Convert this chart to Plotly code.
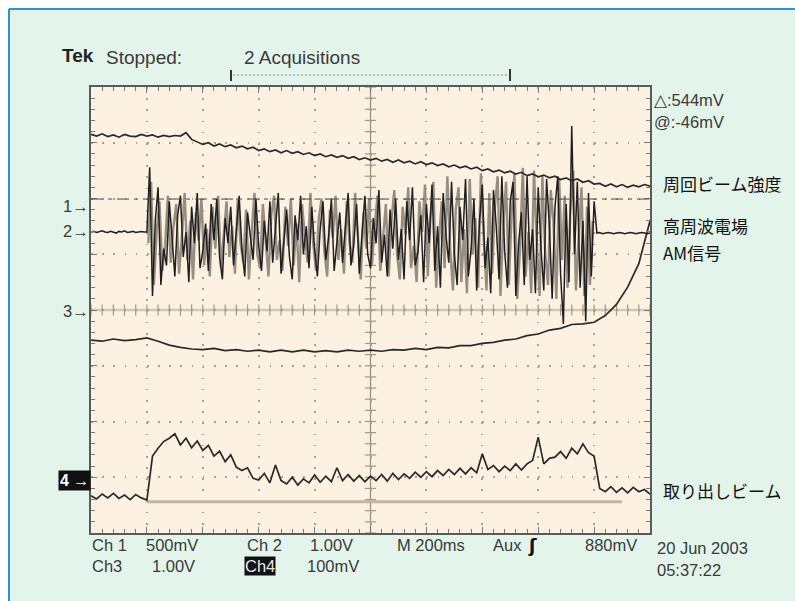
import numpy as np
import plotly.graph_objects as go

# ---------------- data (screen divisions, time in ms; 200 ms/div) ----------------
t_ch1 = list(range(0, 2001, 20))
ch1 = [3.15, 3.12, 3.16, 3.11, 3.14, 3.10, 3.15, 3.12, 3.11, 3.15, 3.12,
       3.14, 3.10, 3.13, 3.11, 3.13, 3.12, 3.18, 3.06, 3.01, 2.97,
       3.00, 2.94, 2.98, 2.93, 2.96, 2.91, 2.94, 2.89, 2.92, 2.86,
       2.89, 2.84, 2.87, 2.82, 2.86, 2.81, 2.84, 2.79, 2.82, 2.77,
       2.80, 2.75, 2.78, 2.74, 2.77, 2.72, 2.75, 2.70, 2.73, 2.69,
       2.72, 2.67, 2.70, 2.65, 2.69, 2.64, 2.67, 2.62, 2.66, 2.61,
       2.64, 2.59, 2.62, 2.57, 2.60, 2.55, 2.58, 2.53, 2.56, 2.50,
       2.53, 2.48, 2.51, 2.46, 2.49, 2.44, 2.47, 2.41, 2.44, 2.39,
       2.42, 2.37, 2.40, 2.34, 2.37, 2.32, 2.35, 2.29, 2.32, 2.26,
       2.27, 2.22, 2.26, 2.21, 2.25, 2.20, 2.24, 2.21, 2.25, 2.22]

t_ch2 = list(range(0, 2001, 10))
ch2_black = [1.40, 1.41, 1.39, 1.40, 1.42, 1.40, 1.39, 1.41, 1.40, 1.38, 1.41,
             1.40, 1.42, 1.39, 1.40, 1.41, 1.39, 1.40, 1.41, 1.40, 1.40,
             2.56, 0.25, 1.60, 2.20, 0.45, 1.10, 0.80, 1.95, 1.30, 0.60,
             1.70, 2.05, 0.95, 1.40, 0.50, 1.85, 1.20, 2.10, 0.75, 1.05,
             1.55, 0.70, 1.90, 1.25, 2.00, 0.95, 0.55, 1.65, 1.20, 1.85,
             0.80, 1.40, 2.05, 1.10, 0.60, 1.75, 1.35, 0.90, 2.00, 1.15,
             0.70, 1.60, 1.05, 1.95, 0.85, 1.45, 2.10, 0.65, 1.30, 1.80,
             0.95, 0.55, 1.70, 1.25, 2.05, 1.00, 1.50, 0.75, 1.85, 1.10,
             0.60, 1.45, 1.95, 0.90, 1.30, 2.00, 0.70, 1.20, 1.75, 0.85,
             1.55, 2.10, 0.80, 1.15, 1.90, 0.65, 1.40, 2.05, 1.00, 0.75,
             1.65, 1.20, 2.15, 0.85, 1.35, 0.60, 1.80, 1.10, 2.00, 0.90,
             1.45, 0.55, 1.95, 1.25, 2.20, 0.80, 1.05, 1.70, 0.50, 1.90,
             1.20, 2.25, 0.70, 1.50, 0.40, 2.10, 1.35, 0.85, 2.30, 1.00,
             0.45, 1.85, 1.25, 2.35, 0.60, 1.10, 2.00, 0.35, 1.60, 2.25,
             0.75, 1.30, 0.30, 2.15, 1.50, 0.55, 2.40, 1.05, 0.40, 1.95,
             2.30, 0.25, 1.20, 1.75, 0.45, 2.40, 0.90, 1.45, 0.30, 2.20,
             1.10, 0.35, 2.35, 1.50, 0.20, 1.85, 2.40, 0.65, -0.25, 1.90,
             0.50, 3.30, 1.00, 2.30, 0.40, 1.60, -0.20, 2.10, 0.60,
             1.95,
             1.38, 1.39, 1.37, 1.38, 1.39, 1.38, 1.37, 1.38, 1.39, 1.38,
             1.37, 1.38, 1.39, 1.38, 1.37, 1.38, 1.39, 1.38, 1.37, 1.38]

t_ch2_gray = list(range(205, 1800, 10))
ch2_gray = [1.20, 2.30, 0.45, 1.40, 1.95, 0.70, 1.15, 2.05, 0.85, 1.50,
            1.90, 0.65, 1.30, 2.10, 0.90, 1.60, 0.55, 1.75, 1.25, 2.00,
            0.80, 1.45, 0.60, 1.85, 1.10, 2.05, 0.75, 1.35, 1.95, 0.95,
            1.50, 0.65, 2.00, 1.20, 0.85, 1.80, 0.55, 1.40, 2.10, 1.00,
            0.75, 1.90, 1.30, 0.60, 1.70, 2.05, 0.90, 1.25, 0.70, 1.85,
            1.15, 2.00, 0.80, 1.55, 0.50, 1.90, 1.35, 0.85, 2.10, 1.20,
            0.70, 1.65, 2.00, 1.05, 0.60, 1.80, 1.30, 2.05, 0.90, 1.45,
            0.65, 1.95, 1.20, 0.85, 2.10, 1.40, 0.55, 1.75, 1.10, 2.00,
            0.80, 1.50, 2.05, 0.70, 1.25, 1.90, 0.60, 1.60, 2.15, 1.00,
            0.55, 1.85, 1.35, 2.20, 0.75, 1.15, 0.50, 1.95, 1.40, 2.25,
            0.60, 1.70, 2.30, 0.40, 1.25, 1.95, 0.75, 2.40, 1.10, 0.35,
            1.80, 2.20, 0.50, 1.45, 0.30, 2.35, 1.00, 1.65, 0.40, 2.45,
            1.30, 0.35, 2.10, 0.65, 1.85, 2.40, 0.25, 1.50, 2.30, 0.45,
            1.70, 2.45, 0.20, 1.10, 2.55, 0.60, 1.40, 0.30, 2.50, 1.20,
            0.25, 2.40, 1.00, 0.45, 2.15, 1.55, 0.20, 2.35, 0.90, 2.05,
            0.40, 1.75, 2.50, 0.35, 1.30, 2.20, 0.25, 1.85, 0.45, 1.60]

t_ch3 = list(range(0, 2001, 40))
ch3 = [-0.54, -0.56, -0.52, -0.55, -0.53, -0.50, -0.56, -0.63, -0.67, -0.70,
       -0.71, -0.69, -0.73, -0.71, -0.74, -0.72, -0.75, -0.72, -0.75, -0.72,
       -0.75, -0.73, -0.75, -0.72, -0.74, -0.72, -0.74, -0.71, -0.72, -0.69,
       -0.71, -0.67, -0.68, -0.64, -0.64, -0.60, -0.58, -0.54, -0.52, -0.46,
       -0.43, -0.36, -0.33, -0.26, -0.25, -0.22, -0.10, 0.10, 0.41, 0.83, 1.60]

t_ch4 = list(range(0, 2001, 20))
ch4 = [-3.33, -3.39, -3.30, -3.37, -3.29, -3.38, -3.32, -3.40, -3.31, -3.37, -3.41,
       -2.62, -2.48, -2.36, -2.30, -2.22, -2.42, -2.30, -2.47, -2.35, -2.52,
       -2.43, -2.62, -2.53, -2.72, -2.60, -2.82, -2.88, -2.83, -3.02, -3.05,
       -2.93, -3.10, -2.78, -3.06, -3.12, -3.00, -3.14, -3.03, -3.10, -2.96,
       -3.09, -2.98, -3.08, -2.83, -3.06, -2.95, -3.07, -2.97, -3.08, -2.98,
       -3.06, -2.95, -3.07, -2.93, -3.04, -2.94, -3.02, -2.91, -3.00, -2.90,
       -2.99, -2.88, -2.97, -2.86, -2.95, -2.84, -2.94, -2.83, -2.92, -2.58,
       -2.86, -2.79, -2.90, -2.80, -2.88, -2.76, -2.87, -2.76, -2.70, -2.28,
       -2.76, -2.66, -2.64, -2.54, -2.66, -2.48, -2.58, -2.40, -2.56, -2.62,
       -3.20, -3.26, -3.17, -3.27, -3.19, -3.28, -3.18, -3.26, -3.22, -3.30]

ref_t = [200, 1900]
ref_v = [-3.44, -3.44]
cursor_level = 1.99

# ---------------- layout geometry ----------------
W, H = 795, 601
L, R, T, B = 91, 650, 87, 533


def P(xp, yp):
    return (xp - L) / (R - L), (B - yp) / (B - T)


MINT = "#e3f4ea"
CREAM = "#fdf1e1"
TXT = "#3a3a3a"
FONT = "Liberation Sans, Arial, sans-serif"
JFONT = "Noto Sans CJK JP, sans-serif"

fig = go.Figure()

# center graticule tick marks
cx = np.arange(0, 2001, 40)
fig.add_trace(go.Scatter(x=cx, y=np.zeros_like(cx, dtype=float), mode="markers",
                         marker=dict(symbol="line-ns", size=8, line=dict(width=1.2, color="#a39786")),
                         hoverinfo="skip", showlegend=False))
cy = np.arange(-4, 4.001, 0.2)
fig.add_trace(go.Scatter(x=np.full_like(cy, 1000), y=cy, mode="markers",
                         marker=dict(symbol="line-ew", size=8, line=dict(width=1.2, color="#a39786")),
                         hoverinfo="skip", showlegend=False))

# reference baseline
fig.add_trace(go.Scatter(x=ref_t, y=ref_v, mode="lines",
                         line=dict(color="#c3b3a1", width=3), hoverinfo="skip", showlegend=False))
# ch2 two acquisitions
fig.add_trace(go.Scatter(x=t_ch2_gray, y=ch2_gray, mode="lines",
                         line=dict(color="#968e82", width=2.4), hoverinfo="skip", showlegend=False))
fig.add_trace(go.Scatter(x=t_ch2, y=ch2_black, mode="lines",
                         line=dict(color="#202020", width=1.5), hoverinfo="skip", showlegend=False))
for tt, vv in ((t_ch1, ch1), (t_ch3, ch3), (t_ch4, ch4)):
    fig.add_trace(go.Scatter(x=tt, y=vv, mode="lines",
                             line=dict(color="#2a2a2a", width=1.7), hoverinfo="skip", showlegend=False))

shapes = []
# center lines
shapes.append(dict(type="line", xref="x", yref="y", x0=0, x1=2000, y0=0, y1=0,
                   line=dict(color="#d3c7b8", width=2.5), layer="below"))
shapes.append(dict(type="line", xref="x", yref="y", x0=1000, x1=1000, y0=-4, y1=4,
                   line=dict(color="#9a8f80", width=1.3), layer="below"))
# cursor
shapes.append(dict(type="line", xref="x", yref="y", x0=0, x1=2000, y0=cursor_level, y1=cursor_level,
                   line=dict(color="#4a4a4a", width=1, dash="12px,5px,4px,5px"), layer="above"))

# panel frame: white strips + blue border
x0p, _ = P(0, 0)
x1p, _ = P(W, 0)
_, y0p = P(0, 0)
_, y8p = P(0, 8)
_, ybp = P(0, H)
xl8, _ = P(8, 0)
shapes.append(dict(type="rect", xref="paper", yref="paper", x0=x0p, x1=x1p, y0=y8p, y1=y0p,
                   fillcolor="white", line=dict(width=0), layer="above"))
shapes.append(dict(type="rect", xref="paper", yref="paper", x0=x0p, x1=xl8, y0=ybp, y1=y0p,
                   fillcolor="white", line=dict(width=0), layer="above"))
bx, _ = P(9, 0)
_, by = P(0, 9)
shapes.append(dict(type="line", xref="paper", yref="paper", x0=bx, x1=x1p, y0=by, y1=by,
                   line=dict(color="#2f92d4", width=2), layer="above"))
shapes.append(dict(type="line", xref="paper", yref="paper", x0=bx, x1=bx, y0=by, y1=ybp,
                   line=dict(color="#2f92d4", width=2), layer="above"))

# record bracket at top
a, yb = P(233, 75)
b, _ = P(508, 75)
shapes.append(dict(type="line", xref="paper", yref="paper", x0=a, x1=b, y0=yb, y1=yb,
                   line=dict(color="#8a8a8a", width=1.2, dash="2px,2px"), layer="above"))
xa, ya0 = P(231, 70)
_, ya1 = P(231, 81)
shapes.append(dict(type="line", xref="paper", yref="paper", x0=xa, x1=xa, y0=ya0, y1=ya1,
                   line=dict(color="#333", width=2), layer="above"))
xb, yb0 = P(510, 69)
_, yb1 = P(510, 81)
shapes.append(dict(type="line", xref="paper", yref="paper", x0=xb, x1=xb, y0=yb0, y1=yb1,
                   line=dict(color="#333", width=2), layer="above"))

ann = []


def text(s, xp, yp, size=16.5, color=TXT, family=FONT, **kw):
    x, y = P(xp, yp)
    ann.append(dict(text=s, x=x, y=y, xref="paper", yref="paper", xanchor="left", yanchor="middle",
                    showarrow=False, font=dict(size=size, color=color, family=family), **kw))


text("<b>Tek</b>", 60, 56, size=19, color="#222", family="Liberation Sans Narrow, Liberation Sans, Arial")
text("Stopped:", 104, 57, size=19)
text("2 Acquisitions", 242, 57, size=19)
text("△:544mV", 652, 100, size=16.5)
text("@:-46mV", 652, 122, size=16.5)
text("周回ビーム強度", 661, 183, size=17, color="#111", family=JFONT)
text("高周波電場", 661, 225, size=17, color="#111", family=JFONT)
text("AM信号", 661, 253, size=17, color="#111", family=JFONT)
text("取り出しビーム", 661, 490, size=17, color="#111", family=JFONT)
row1, row2 = 545, 566
text("Ch 1", 90, row1)
text("500mV", 144, row1)
text("Ch 2", 245, row1)
text("1.00V", 308, row1)
text("M 200ms", 395, row1)
text("Aux", 491, row1)
text("<b>ʃ</b>", 526, row1, size=18, color="#111", family="DejaVu Sans")
text("880mV", 583, row1)
text("Ch3", 90, row2)
text("1.00V", 150, row2)
text("Ch4", 244, row2, color="#e8e8e8", bgcolor="#111", borderpad=0)
text("100mV", 305, row2)
text("20 Jun 2003", 655, 548)
text("05:37:22", 655, 570)
text("1→", 61, 206, size=16.5)
text("2→", 61, 231, size=16.5)
text("3→", 61, 311, size=16.5)
text("<b>4 →</b>", 58, 480, size=16, color="white", bgcolor="#111", borderpad=1)

axis_common = dict(showticklabels=False, showline=True, linecolor="#5a5a5a", linewidth=2,
                   mirror="ticks", ticks="inside", tickcolor="#7a7a7a", ticklen=6,
                   showgrid=True, gridcolor="#a99f92", gridwidth=1.6, zeroline=False,
                   fixedrange=True)

fig.update_layout(
    width=W, height=H,
    margin=dict(l=L, r=W - R, t=T, b=H - B, pad=0),
    paper_bgcolor=MINT, plot_bgcolor=CREAM,
    showlegend=False,
    shapes=shapes, annotations=ann,
    xaxis=dict(range=[0, 2000], dtick=200, tick0=0, griddash="1.6px,9.58px",
               minor=dict(dtick=40, ticks="inside", ticklen=4, tickcolor="#7a7a7a", showgrid=False),
               **axis_common),
    yaxis=dict(range=[-4, 4], dtick=1, tick0=0, griddash="1.6px,9.58px",
               minor=dict(dtick=0.2, ticks="inside", ticklen=4, tickcolor="#7a7a7a", showgrid=False),
               **axis_common),
)

fig.write_html("out.html")
